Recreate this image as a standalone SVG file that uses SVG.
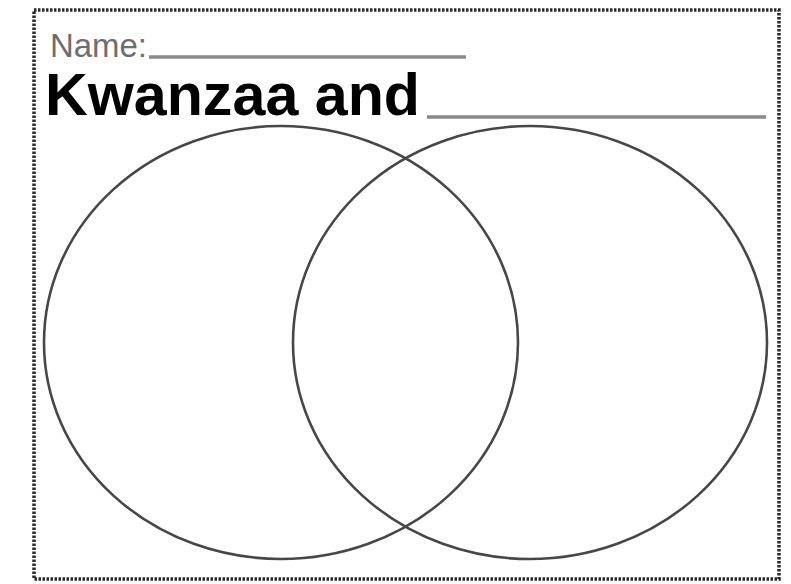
<svg xmlns="http://www.w3.org/2000/svg" width="791" height="584" viewBox="0 0 791 584">
  <style>
    .border { fill: none; stroke: #2a2a2a; stroke-width: 3.5; stroke-dasharray: 2.5 1.5; }
    .circle { fill: none; stroke: #474747; stroke-width: 2.6; }
    .rule { stroke: #8a8a8a; stroke-width: 3.5; }
    .name { font-family: "Liberation Sans", Arial, sans-serif; font-size: 34px; fill: #6e6e6e; }
    .title { font-family: "Liberation Sans", Arial, sans-serif; font-size: 60px; font-weight: bold; fill: #000; }
  </style>
  <rect width="791" height="584" fill="#ffffff"/>
  <rect class="border" x="34" y="10" width="745" height="569"/>
  <g id="header">
    <text class="name" x="50" y="57" textLength="97" lengthAdjust="spacingAndGlyphs">Name:</text>
    <line class="rule" x1="149" y1="57" x2="466" y2="57"/>
    <text class="title" x="45" y="115" textLength="375" lengthAdjust="spacingAndGlyphs">Kwanzaa and</text>
    <line class="rule" x1="427" y1="117" x2="766" y2="117"/>
  </g>
  <g id="circle-left">
    <ellipse class="circle" cx="281" cy="342.5" rx="237" ry="216.5"/>
  </g>
  <g id="circle-right">
    <ellipse class="circle" cx="530" cy="342.5" rx="237" ry="216.5"/>
  </g>
</svg>
